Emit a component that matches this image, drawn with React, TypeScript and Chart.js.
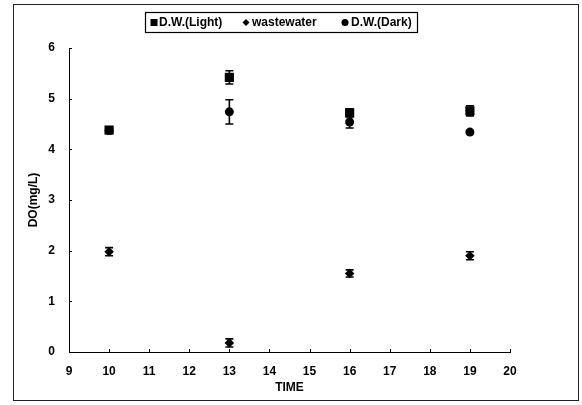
import React, { useEffect, useRef } from 'react';
import { Chart, registerables } from 'chart.js';

Chart.register(...registerables);

const times = [10, 13, 16, 19];
const lightValues = [4.38, 5.42, 4.72, 4.76];
const lightErrors = [0.03, 0.13, 0.08, 0.1];
const wasteValues = [1.98, 0.18, 1.55, 1.9];
const wasteErrors = [0.08, 0.08, 0.07, 0.08];
const darkValues = [4.37, 4.74, 4.54, 4.34];
const darkErrors = [0.03, 0.24, 0.12, 0.03];
const seriesLabels = ['D.W.(Light)', 'wastewater', 'D.W.(Dark)'];
const xMin = 9;
const xMax = 20;
const yMin = 0;
const yMax = 6;

const FONT = "'Liberation Sans', Arial, sans-serif";

const errorsBySeries = [lightErrors, wasteErrors, darkErrors];
const valuesBySeries = [lightValues, wasteValues, darkValues];
const pointStyles = ['rect', 'rectRot', 'circle'];
const pointRadii = [6.5, 4.8, 4.5];

const errorBarPlugin = {
  id: 'errorBars',
  afterDatasetsDraw(chart: any) {
    const { ctx } = chart;
    const xs = chart.scales.x;
    const ys = chart.scales.y;
    ctx.save();
    ctx.strokeStyle = '#000';
    ctx.lineWidth = 1.6;
    valuesBySeries.forEach((vals, i) => {
      vals.forEach((v, j) => {
        const e = errorsBySeries[i][j];
        const x = xs.getPixelForValue(times[j]);
        const yt = ys.getPixelForValue(v + e);
        const yb = ys.getPixelForValue(v - e);
        ctx.beginPath();
        ctx.moveTo(x, yt);
        ctx.lineTo(x, yb);
        ctx.moveTo(x - 4, yt);
        ctx.lineTo(x + 4, yt);
        ctx.moveTo(x - 4, yb);
        ctx.lineTo(x + 4, yb);
        ctx.stroke();
      });
    });
    ctx.restore();
  },
};

const frameLegendPlugin = {
  id: 'frameLegend',
  afterDraw(chart: any) {
    const { ctx } = chart;
    const xs = chart.scales.x;
    const ys = chart.scales.y;
    ctx.save();
    // outer frame
    ctx.strokeStyle = '#222';
    ctx.lineWidth = 1;
    ctx.strokeRect(13.5, 4.5, 565, 396);
    // inner tick marks
    ctx.strokeStyle = '#000';
    ctx.beginPath();
    for (let t = xMin; t <= xMax; t++) {
      const x = Math.round(xs.getPixelForValue(t)) + 0.5;
      ctx.moveTo(x, ys.bottom);
      ctx.lineTo(x, ys.bottom - 3);
    }
    for (let t = yMin; t <= yMax; t++) {
      const y = Math.round(ys.getPixelForValue(t)) + 0.5;
      ctx.moveTo(xs.left, y);
      ctx.lineTo(xs.left + 3, y);
    }
    ctx.stroke();
    // legend
    ctx.lineWidth = 1.2;
    ctx.strokeRect(145.5, 12.5, 272, 20);
    const markerX = [154, 246, 345];
    const textX = [159, 252, 351];
    const cy = 22.5;
    ctx.fillStyle = '#000';
    ctx.font = `bold 12px ${FONT}`;
    ctx.textBaseline = 'middle';
    ctx.textAlign = 'left';
    seriesLabels.forEach((label, i) => {
      const mx = markerX[i];
      ctx.beginPath();
      if (i === 0) {
        ctx.rect(mx - 3.5, cy - 3.5, 7, 7);
      } else if (i === 1) {
        ctx.moveTo(mx, cy - 3.5);
        ctx.lineTo(mx + 3.5, cy);
        ctx.lineTo(mx, cy + 3.5);
        ctx.lineTo(mx - 3.5, cy);
        ctx.closePath();
      } else {
        ctx.arc(mx, cy, 3.5, 0, Math.PI * 2);
      }
      ctx.fill();
      ctx.fillText(label, textX[i], cy + 0.5);
    });
    ctx.restore();
  },
};

export default function App() {
  const ref = useRef<HTMLCanvasElement | null>(null);

  useEffect(() => {
    if (!ref.current) return;
    const mk = (i: number) => ({
      label: seriesLabels[i],
      data: times.map((t, j) => ({ x: t, y: valuesBySeries[i][j] })),
      showLine: false,
      pointStyle: pointStyles[i],
      pointRadius: pointRadii[i],
      pointBackgroundColor: '#000',
      pointBorderColor: '#000',
      pointBorderWidth: 0,
      backgroundColor: '#000',
      borderColor: '#000',
    });
    const tickFont = { family: FONT, size: 12, weight: 'bold' as const };
    const chart = new Chart(ref.current, {
      type: 'scatter',
      data: { datasets: [mk(0), mk(1), mk(2)] },
      options: {
        animation: false,
        responsive: false,
        layout: { padding: { left: 18, right: 72, top: 48, bottom: 6 } },
        plugins: { legend: { display: false }, tooltip: { enabled: false } },
        scales: {
          x: {
            type: 'linear',
            min: xMin,
            max: xMax,
            ticks: { stepSize: 1, color: '#000', font: tickFont, padding: 12, maxRotation: 0 },
            grid: { display: false, drawTicks: false },
            border: { display: true, color: '#000', width: 1 },
            title: { display: true, text: 'TIME', color: '#000', font: tickFont, padding: { top: 0, bottom: 4 } },
            afterFit: (s: any) => { s.height = 47; },
          },
          y: {
            type: 'linear',
            min: yMin,
            max: yMax,
            ticks: { stepSize: 1, color: '#000', font: tickFont, padding: 14 },
            grid: { display: false, drawTicks: false },
            border: { display: true, color: '#000', width: 1 },
            title: { display: true, text: 'DO(mg/L)', color: '#000', font: tickFont, padding: { top: 8, bottom: 0 } },
            afterFit: (s: any) => { s.width = 51; },
          },
        },
      },
      plugins: [errorBarPlugin, frameLegendPlugin],
    });
    return () => chart.destroy();
  }, []);

  return (
    <div style={{ position: 'fixed', left: 0, top: 0, width: 582, height: 405, background: '#fff' }}>
      <canvas ref={ref} width={582} height={405} style={{ width: 582, height: 405, display: 'block' }} />
    </div>
  );
}
